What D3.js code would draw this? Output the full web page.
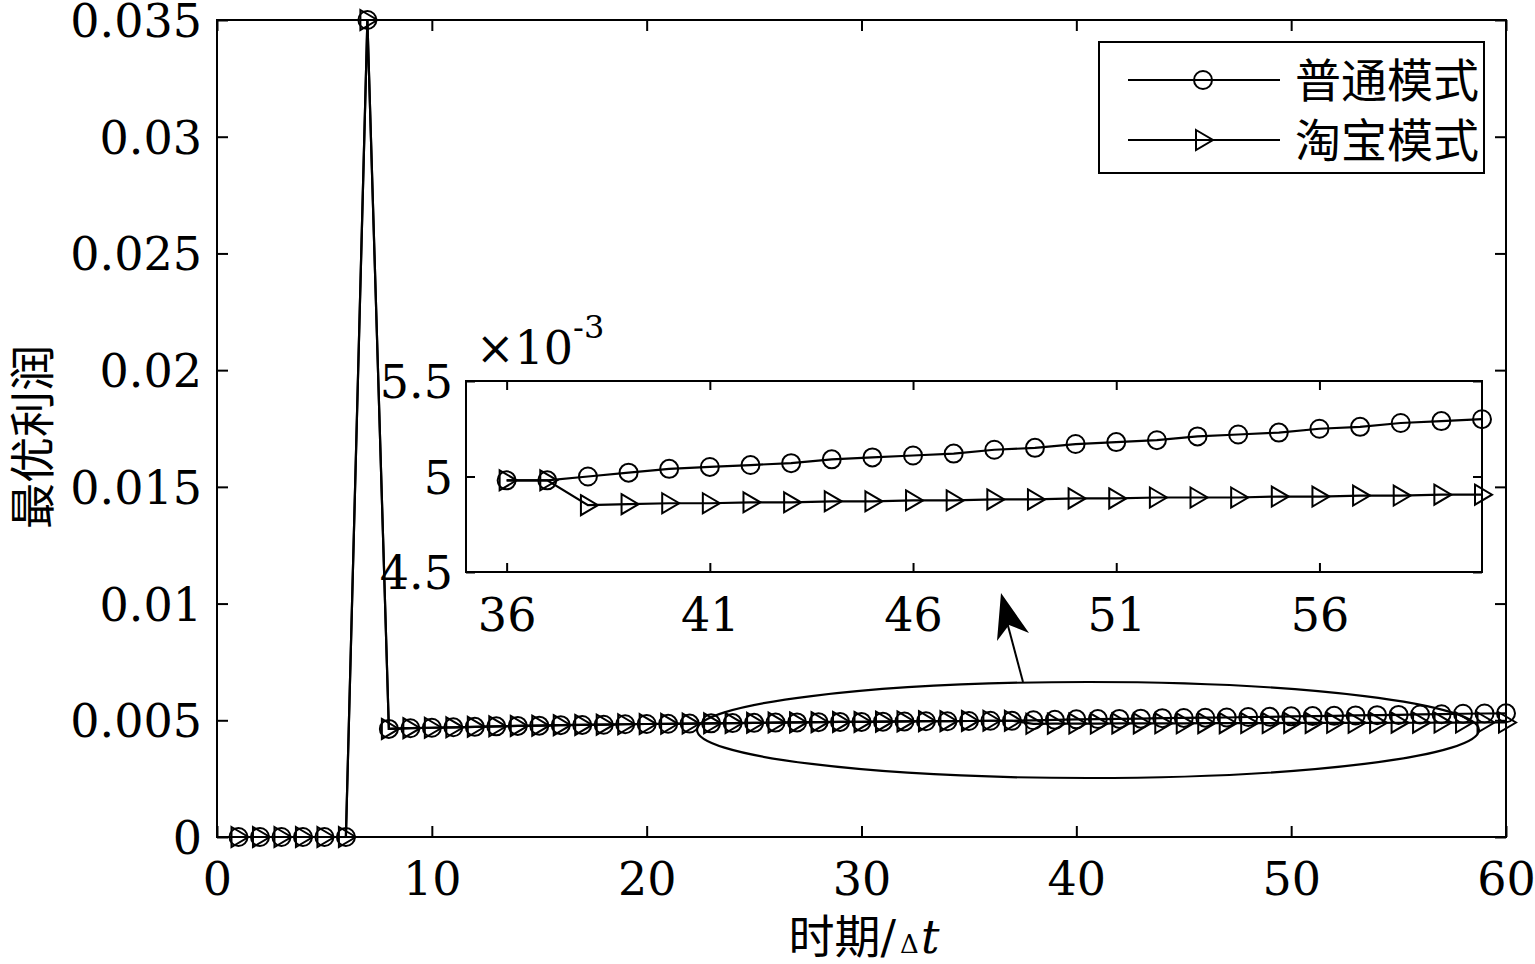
<!DOCTYPE html>
<html>
<head>
<meta charset="utf-8">
<script src="https://cdn.jsdelivr.net/npm/d3@7"></script>
<style>
  body { margin: 0; background: #fff; }
  .num { font-family: "DejaVu Serif", serif; font-size: 46px; fill: #000; }
  .cjk { font-family: "Noto Sans CJK SC", sans-serif; font-size: 46px; fill: #000; }
</style>
</head>
<body>
<script>
var width = 1535;
var height = 964;

// 데이터
var periods = d3.range(1, 61);
var putong = [0, 0, 0, 0, 0, 0, 0.035,
  0.00463, 0.00466, 0.00468, 0.00470, 0.00472, 0.00474, 0.00476, 0.00477, 0.00479, 0.00480,
  0.00481, 0.00483, 0.00484, 0.00485, 0.00486, 0.00487, 0.00488, 0.00489, 0.00490, 0.00491,
  0.00492, 0.00493, 0.00493, 0.00494, 0.00495, 0.00496, 0.00496, 0.00497, 0.00498, 0.00498,
  0.00500, 0.00502, 0.00504, 0.00505, 0.00506, 0.00507, 0.00509, 0.00510, 0.00511, 0.00512,
  0.00514, 0.00515, 0.00517, 0.00518, 0.00519, 0.00521, 0.00522, 0.00523, 0.00525, 0.00526,
  0.00528, 0.00529, 0.00530];
var taobao = [0, 0, 0, 0, 0, 0, 0.035,
  0.00463, 0.00466, 0.00468, 0.00470, 0.00472, 0.00474, 0.00476, 0.00477, 0.00479, 0.00480,
  0.00481, 0.00483, 0.00484, 0.00485, 0.00486, 0.00487, 0.00488, 0.00489, 0.00490, 0.00491,
  0.00492, 0.00493, 0.00493, 0.00494, 0.00495, 0.00496, 0.00496, 0.00497, 0.00498, 0.00498,
  0.004850, 0.004855, 0.004860, 0.004860, 0.004865, 0.004865, 0.004870, 0.004870, 0.004875, 0.004875,
  0.004880, 0.004880, 0.004885, 0.004885, 0.004890, 0.004890, 0.004890, 0.004895, 0.004895, 0.004900,
  0.004900, 0.004905, 0.004905];
var seriesNames = ["普通模式", "淘宝模式"];
var xTicks = [0, 10, 20, 30, 40, 50, 60];
var yTicks = [0, 0.005, 0.01, 0.015, 0.02, 0.025, 0.03, 0.035];
var insetXTicks = [36, 41, 46, 51, 56];
var insetYTicks = [0.0045, 0.005, 0.0055];

var svg = d3.select("body").append("svg")
  .attr("width", width).attr("height", height);

// 메인 차트
var box = { left: 217, right: 1506, top: 20, bottom: 837 };
var xScale = d3.scaleLinear().domain([0, 60]).range([box.left, box.right]);
var yScale = d3.scaleLinear().domain([0, 0.035]).range([box.bottom, box.top]);

function styleAxis(g) {
  g.select(".domain").remove();
  g.selectAll(".tick line").attr("stroke", "#000").attr("stroke-width", 2);
  g.selectAll(".tick text").attr("class", "num").attr("font-family", null).attr("font-size", null)
    .attr("fill", null).attr("dy", "0.36em");
}

var yFmt = function (v) { return v === 0 ? "0" : d3.format(".3~f")(v); };

svg.append("g").attr("transform", "translate(0," + box.bottom + ")")
  .call(d3.axisBottom(xScale).tickValues(xTicks).tickSize(-11).tickPadding(41).tickFormat(d3.format("d")))
  .call(styleAxis);
svg.append("g").attr("transform", "translate(0," + box.top + ")")
  .call(d3.axisTop(xScale).tickValues(xTicks).tickSize(-11).tickFormat(""))
  .call(styleAxis);
svg.append("g").attr("transform", "translate(" + box.left + ",0)")
  .call(d3.axisLeft(yScale).tickValues(yTicks).tickSize(-11).tickPadding(15).tickFormat(yFmt))
  .call(styleAxis);
svg.append("g").attr("transform", "translate(" + box.right + ",0)")
  .call(d3.axisRight(yScale).tickValues(yTicks).tickSize(-11).tickFormat(""))
  .call(styleAxis);

svg.append("rect")
  .attr("x", box.left).attr("y", box.top)
  .attr("width", box.right - box.left).attr("height", box.bottom - box.top)
  .attr("fill", "none").attr("stroke", "#000").attr("stroke-width", 2);

var triPath = "M-7,-10L10,0L-7,10Z";

function drawSeries(g, xs, ys, xv, yv, marker) {
  var line = d3.line().x(function (d, i) { return xs(xv[i]); }).y(function (d) { return ys(d); });
  g.append("path").datum(yv).attr("d", line)
    .attr("fill", "none").attr("stroke", "#000").attr("stroke-width", 2.2);
  var pts = g.append("g").selectAll("g").data(yv).join("g")
    .attr("transform", function (d, i) { return "translate(" + xs(xv[i]) + "," + ys(d) + ")"; });
  if (marker === "circle") {
    pts.append("circle").attr("r", 9).attr("fill", "none").attr("stroke", "#000").attr("stroke-width", 2);
  } else {
    pts.append("path").attr("d", triPath).attr("fill", "none").attr("stroke", "#000").attr("stroke-width", 2);
  }
}

var mainG = svg.append("g");
drawSeries(mainG, xScale, yScale, periods, putong, "circle");
drawSeries(mainG, xScale, yScale, periods, taobao, "tri");

// 타원과 화살표
svg.append("ellipse")
  .attr("cx", 1088).attr("cy", 730).attr("rx", 391).attr("ry", 48)
  .attr("fill", "none").attr("stroke", "#000").attr("stroke-width", 2.2);
svg.append("line")
  .attr("x1", 1023).attr("y1", 682).attr("x2", 1007).attr("y2", 622)
  .attr("stroke", "#000").attr("stroke-width", 2);
svg.append("path")
  .attr("d", "M1001,593L1029,633L1009,625L997,641Z")
  .attr("fill", "#000");

// 축 라벨
svg.append("text").attr("class", "cjk")
  .attr("transform", "translate(49,437) rotate(-90)")
  .attr("text-anchor", "middle")
  .text("最优利润");
var xl = svg.append("text").attr("x", 864).attr("y", 953).attr("text-anchor", "middle");
xl.append("tspan").attr("class", "cjk").text("时期");
xl.append("tspan").attr("class", "num").text("/");
xl.append("tspan").attr("class", "num").style("font-size", "26px").attr("dx", 4).text("Δ");
xl.append("tspan").attr("class", "num").style("font-style", "italic").attr("dx", 2).text("t");

// 인셋
var ibox = { left: 466, right: 1482, top: 381, bottom: 572 };
var ix = d3.scaleLinear().domain([35, 60]).range([ibox.left, ibox.right]);
var iy = d3.scaleLinear().domain([0.0045, 0.0055]).range([ibox.bottom, ibox.top]);

svg.append("rect")
  .attr("x", ibox.left).attr("y", ibox.top)
  .attr("width", ibox.right - ibox.left).attr("height", ibox.bottom - ibox.top)
  .attr("fill", "#fff");

var insetG = svg.append("g");
insetG.append("g").attr("transform", "translate(0," + ibox.bottom + ")")
  .call(d3.axisBottom(ix).tickValues(insetXTicks).tickSize(-9).tickPadding(42).tickFormat(d3.format("d")))
  .call(styleAxis);
insetG.append("g").attr("transform", "translate(0," + ibox.top + ")")
  .call(d3.axisTop(ix).tickValues(insetXTicks).tickSize(-9).tickFormat(""))
  .call(styleAxis);
insetG.append("g").attr("transform", "translate(" + ibox.left + ",0)")
  .call(d3.axisLeft(iy).tickValues(insetYTicks).tickSize(-9).tickPadding(13)
    .tickFormat(function (v) { return d3.format(".1~f")(v * 1000); }))
  .call(styleAxis);
insetG.append("g").attr("transform", "translate(" + ibox.right + ",0)")
  .call(d3.axisRight(iy).tickValues(insetYTicks).tickSize(-9).tickFormat(""))
  .call(styleAxis);

insetG.append("rect")
  .attr("x", ibox.left).attr("y", ibox.top)
  .attr("width", ibox.right - ibox.left).attr("height", ibox.bottom - ibox.top)
  .attr("fill", "none").attr("stroke", "#000").attr("stroke-width", 2);

var iPeriods = periods.slice(35);
drawSeries(insetG, ix, iy, iPeriods, putong.slice(35), "circle");
drawSeries(insetG, ix, iy, iPeriods, taobao.slice(35), "tri");

var expo = svg.append("text").attr("class", "num").attr("x", 476).attr("y", 364);
expo.append("tspan").text("×10");
expo.append("tspan").attr("dy", -26).style("font-size", "32px").text("-3");

// 범례
var lg = svg.append("g");
lg.append("rect").attr("x", 1099).attr("y", 42).attr("width", 385).attr("height", 131)
  .attr("fill", "#fff").attr("stroke", "#000").attr("stroke-width", 2);
var legendY = [80, 140];
seriesNames.forEach(function (name, i) {
  var y = legendY[i];
  lg.append("line").attr("x1", 1128).attr("x2", 1280).attr("y1", y).attr("y2", y)
    .attr("stroke", "#000").attr("stroke-width", 2);
  if (i === 0) {
    lg.append("circle").attr("cx", 1203).attr("cy", y).attr("r", 9)
      .attr("fill", "none").attr("stroke", "#000").attr("stroke-width", 2);
  } else {
    lg.append("path").attr("d", triPath).attr("transform", "translate(1203," + y + ")")
      .attr("fill", "none").attr("stroke", "#000").attr("stroke-width", 2);
  }
  lg.append("text").attr("class", "cjk").attr("x", 1295).attr("y", y)
    .attr("dy", "0.36em").text(name);
});
</script>
</body>
</html>
